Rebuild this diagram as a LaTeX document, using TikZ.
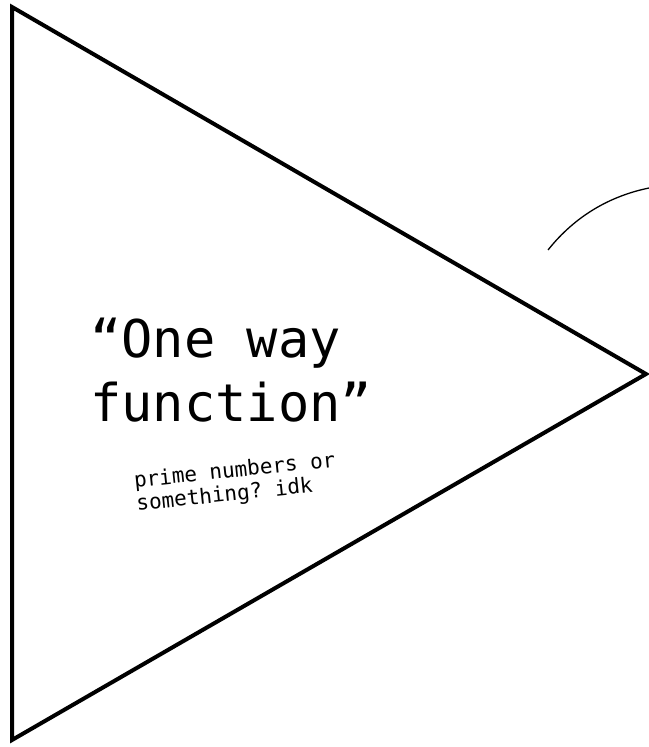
\documentclass[tikz,border=0pt]{standalone}
\usepackage{fontspec}
\setmonofont{DejaVu Sans Mono}
\usetikzlibrary{positioning}

\begin{document}
\begin{tikzpicture}[
  x=1pt, y=-1pt,
  every node/.style={inner sep=0pt},
  outline/.style={line width=4pt, line join=miter},
  stroke/.style={line width=1.3pt},
  title/.style={align=left, font=\ttfamily\fontsize{52}{64}\selectfont},
  note/.style={align=left, rotate=6, font=\ttfamily\fontsize{21}{23}\selectfont}
]
  \useasboundingbox (0,0) rectangle (648,747);

  % Triangle
  \coordinate (topleft) at (12,7);
  \coordinate (tip) at (646,374);
  \coordinate (botleft) at (12,740);
  \draw[outline] (topleft) -- (tip) -- (botleft) -- cycle;

  % Arc at the right edge
  \coordinate (arcstart) at (548,250);
  \coordinate (arcend) at (649,188);
  \draw[stroke] (arcstart) .. controls (575,216) and (610,196) .. (arcend);

  % Labels
  \node[title, anchor=north west] (oneway) at (90,318) {“One way\\function”};
  \node[note] (idk) at (236,483) {prime numbers or\\something? idk};
\end{tikzpicture}
\end{document}
